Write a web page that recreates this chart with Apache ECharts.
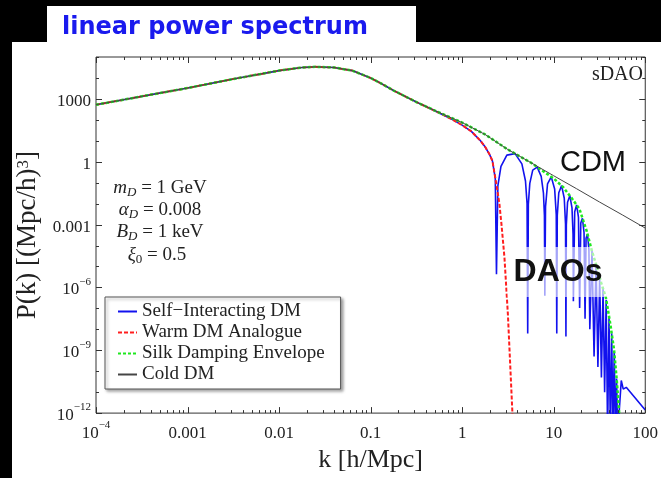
<!DOCTYPE html>
<html>
<head>
<meta charset="utf-8">
<script src="https://cdn.jsdelivr.net/npm/echarts@6/dist/echarts.min.js"></script>
<style>
  html, body { margin: 0; padding: 0; background: #000; }
  #chart { width: 661px; height: 478px; }
</style>
</head>
<body>
<div id="chart"></div>
<script>
// Linear matter power spectrum P(k) [(Mpc/h)^3] against wavenumber k [h/Mpc]

// Cold dark matter
const cdmK = [1e-4, 3.16e-4, 1e-3, 3.16e-3, 0.01, 0.0178, 0.0251, 0.0398, 0.0631, 0.1, 0.126, 0.178, 0.316, 0.562, 1, 1.78, 3.16, 5.62, 10, 17.8, 31.6, 56.2, 100];
const cdmP = [525, 1320, 3300, 8900, 22400, 31600, 33900, 31600, 22400, 10000, 5890, 2510, 708, 224, 74, 20, 3.8, 0.91, 0.214, 0.0513, 0.012, 2.9e-3, 6.8e-4];

// Warm dark matter analogue (sharp cut-off)
const warmK = [1e-4, 3.16e-4, 1e-3, 3.16e-3, 0.01, 0.0178, 0.0251, 0.0398, 0.0631, 0.1, 0.126, 0.178, 0.316, 0.562, 0.794, 1, 1.26, 1.585, 1.778, 1.995, 2.14, 2.37, 2.55, 2.69, 2.9, 3.16, 3.54, 3.63];
const warmP = [525, 1320, 3300, 8900, 22400, 31600, 33900, 31600, 22400, 10000, 5890, 2510, 708, 214, 100, 56, 28, 10, 5.2, 2.2, 1.1, 0.079, 0.01, 1e-3, 2.5e-5, 5e-8, 1e-12, 1e-13];

// Silk damping envelope
const silkK = [1e-4, 3.16e-4, 1e-3, 3.16e-3, 0.01, 0.0178, 0.0251, 0.0398, 0.0631, 0.1, 0.126, 0.178, 0.316, 0.562, 1, 1.78, 3.16, 5.62, 7.08, 10, 12.6, 15.8, 19.1, 22.9, 26.3, 29.5, 33.1, 37.2, 41.7, 45.7, 49, 52.5];
const silkP = [525, 1320, 3300, 8900, 22400, 31600, 33900, 31600, 22400, 10000, 5890, 2510, 708, 224, 74, 20, 3.8, 0.91, 0.45, 0.158, 0.063, 0.0178, 5.6e-3, 5e-4, 5e-5, 1e-5, 1.6e-6, 3.2e-7, 1.6e-8, 1e-9, 3.2e-11, 5e-13];

// Self-interacting (atomic) dark matter with acoustic oscillations
const sidmK = [1e-4, 3.16e-4, 1e-3, 3.16e-3, 0.01, 0.0178, 0.0251, 0.0398, 0.0631, 0.1, 0.126, 0.178, 0.316,
  0.562, 0.794, 1, 1.26, 1.585, 1.778, 1.995, 2.14, 2.3, 2.37,
  2.455, 2.653, 3.078, 3.785, 4.49, 4.917, 5.115, 5.2,
  5.284, 5.48, 5.9, 6.6, 7.3, 7.72, 7.916, 8.0,
  8.14, 8.56, 9.4, 10.24, 10.66, 10.8,
  10.94, 11.36, 12.2, 13.04, 13.46, 13.6,
  13.74, 14.16, 15.0, 15.84, 16.26, 16.4,
  16.96, 17.8, 18.64, 19.2,
  19.76, 20.6, 21.44, 22.0,
  22.56, 23.4, 24.24, 24.8,
  26.2, 27.6, 29.0, 30.4, 31.8, 33.2, 34.6, 36.0, 37.4, 38.8, 40.2, 41.6, 43.0, 44.4, 45.8, 47.2, 48.6, 50,
  54.7, 57.5, 62, 100];
const sidmP = [525, 1320, 3300, 8900, 22400, 31600, 33900, 31600, 22400, 10000, 5890, 2510, 708,
  214, 100, 56, 28, 10, 5.2, 2.2, 1.1, 0.16, 4.3e-6,
  0.071, 0.60, 2.06, 2.43, 0.79, 0.12, 0.0103, 6.3e-9,
  9.5e-3, 0.093, 0.40, 0.55, 0.20, 0.033, 2.8e-3, 4e-7,
  7.2e-3, 0.087, 0.19, 0.05, 3e-3, 6.3e-9,
  2.7e-3, 0.033, 0.072, 0.018, 1.07e-3, 4.5e-9,
  9.5e-4, 0.0115, 0.024, 6.2e-3, 3.7e-4, 2.2e-7,
  4.1e-3, 8.7e-3, 2.2e-3, 1.05e-7,
  1.2e-3, 2e-3, 4.2e-4, 3.2e-8,
  2.2e-4, 3.5e-4, 6.6e-5, 1e-8,
  5.4e-5, 5e-10, 1.3e-5, 1.6e-10, 3.1e-6, 5e-11, 8.5e-7, 1e-11, 2.6e-7, 1e-13, 4.2e-8, 1e-13, 6.5e-9, 1e-13, 9.3e-10, 1e-13, 4.5e-11, 1e-13,
  3.6e-11, 1.4e-11, 1.7e-11, 1.4e-12];

// Tick labels
const xTickExps = [-4, -3, -2, -1, 0, 1, 2];
const xTickLabels = ['{n|10}{s|\u22124}', '{n|0.001}', '{n|0.01}', '{n|0.1}', '{n|1}', '{n|10}', '{n|100}'];
const yTickExps = [-12, -9, -6, -3, 0, 3];
const yTickLabels = ['{n|10}{s|\u221212}', '{n|10}{s|\u22129}', '{n|10}{s|\u22126}', '{n|0.001}', '{n|1}', '{n|1000}'];

const SERIF = '"Liberation Serif", "DejaVu Serif", serif';
const SANS = '"Liberation Sans", Arial, sans-serif';

const pairs = (ks, ps) => ks.map((k, i) => [k, ps[i]]);

// Tick marks on all four sides: decade ticks plus 2..9 sub-ticks along k
const xTicks = [];
for (let e = -4; e <= 2; e++) {
  xTicks.push([Math.pow(10, e), 1, 6]);
  if (e < 2) for (let m = 2; m <= 9; m++) xTicks.push([m * Math.pow(10, e), 1, 3]);
}
const yTicks = [];
for (let e = -12; e <= 5; e++) {
  yTicks.push([1, Math.pow(10, e), yTickExps.includes(e) ? 6 : 3]);
}

const labelRich = {
  n: { fontFamily: SERIF, fontSize: 17, color: '#222', lineHeight: 22, verticalAlign: 'bottom' },
  s: { fontFamily: SERIF, fontSize: 11, color: '#222', lineHeight: 12, verticalAlign: 'top' }
};

function expOf(v) { return Math.round(Math.log10(v)); }

function paramText(y, x, text, subItalic) {
  return {
    type: 'text', silent: true, z: 20, x: x, y: y,
    style: {
      text: text, font: '19px ' + SERIF, fill: '#222', align: 'center', verticalAlign: 'middle', lineHeight: 22,
      rich: {
        v: { font: 'italic 19px ' + SERIF, lineHeight: 22 },
        d: { font: (subItalic ? 'italic ' : '') + '13px ' + SERIF, lineHeight: 14, verticalAlign: 'bottom' }
      }
    }
  };
}

const chart = echarts.init(document.getElementById('chart'), null, { renderer: 'canvas' });

chart.setOption({
  backgroundColor: '#000',
  animation: false,
  grid: { left: 96, top: 57, right: 15, bottom: 62, show: true, borderColor: '#333', borderWidth: 1, backgroundColor: '#fff', z: 1 },
  xAxis: {
    type: 'log', logBase: 10, min: 1e-4, max: 100,
    axisLine: { show: false }, axisTick: { show: false }, splitLine: { show: false },
    axisLabel: {
      margin: 7,
      formatter: v => { const i = xTickExps.indexOf(expOf(v)); return i >= 0 ? xTickLabels[i] : ''; },
      rich: labelRich
    },
    name: 'k [h/Mpc]', nameLocation: 'middle', nameGap: 33,
    nameTextStyle: { fontFamily: SERIF, fontSize: 26, color: '#222' }
  },
  yAxis: {
    type: 'log', logBase: 10, min: 1e-12, max: 1e5, interval: 3,
    axisLine: { show: false }, axisTick: { show: false }, splitLine: { show: false },
    axisLabel: {
      margin: 5,
      formatter: v => { const i = yTickExps.indexOf(expOf(v)); return i >= 0 ? yTickLabels[i] : ''; },
      rich: labelRich
    },
    name: 'P(k) [(Mpc/h){s|3}]', nameLocation: 'middle', nameGap: 52, nameRotate: 90,
    nameTextStyle: {
      fontFamily: SERIF, fontSize: 27, color: '#222',
      rich: { s: { fontFamily: SERIF, fontSize: 17, color: '#222', verticalAlign: 'top', lineHeight: 16 } }
    }
  },
  legend: {
    data: ['Self\u2212Interacting DM', 'Warm DM Analogue', 'Silk Damping Envelope', 'Cold DM'],
    orient: 'vertical', left: 105, top: 297,
    itemWidth: 19, itemHeight: 12, itemGap: 2,
    padding: [5, 16, 5, 12],
    backgroundColor: '#fff', borderColor: '#555', borderWidth: 1,
    shadowColor: 'rgba(0,0,0,0.35)', shadowBlur: 3, shadowOffsetX: 2, shadowOffsetY: 2,
    itemStyle: { color: 'rgba(0,0,0,0)', borderColor: 'rgba(0,0,0,0)', borderWidth: 0, opacity: 0 },
    textStyle: { fontFamily: SERIF, fontSize: 19, color: '#222' },
    selectedMode: false
  },
  series: [
    {
      name: 'Self\u2212Interacting DM', type: 'line', data: pairs(sidmK, sidmP),
      symbol: 'none', z: 2,
      lineStyle: { color: '#1212ee', width: 1.6 }, itemStyle: { color: '#1212ee' }
    },
    {
      name: 'Warm DM Analogue', type: 'line', data: pairs(warmK, warmP),
      symbol: 'none', z: 3,
      lineStyle: { color: '#ff1e1e', width: 2, type: [4, 2] }, itemStyle: { color: '#ff1e1e' }
    },
    {
      name: 'Silk Damping Envelope', type: 'line', data: pairs(silkK, silkP),
      symbol: 'none', z: 4,
      lineStyle: { color: '#1ee81e', width: 2.5, type: [3, 2] }, itemStyle: { color: '#1ee81e' }
    },
    {
      name: 'Cold DM', type: 'line', data: pairs(cdmK, cdmP),
      symbol: 'none', z: 5,
      lineStyle: { color: '#454545', width: 1 }, itemStyle: { color: '#454545' }
    },
    {
      type: 'custom', silent: true, z: 6, clip: false,
      data: xTicks, encode: { x: 0, y: 1 },
      renderItem: (params, api) => {
        const cs = params.coordSys;
        const px = Math.round(api.coord([api.value(0), 1])[0]) + 0.5;
        const len = api.value(2);
        const b = cs.y + cs.height;
        return {
          type: 'group', children: [
            { type: 'line', shape: { x1: px, y1: b, x2: px, y2: b - len }, style: { stroke: '#333', lineWidth: 1 } },
            { type: 'line', shape: { x1: px, y1: cs.y, x2: px, y2: cs.y + len }, style: { stroke: '#333', lineWidth: 1 } }
          ]
        };
      }
    },
    {
      type: 'custom', silent: true, z: 6, clip: false,
      data: yTicks, encode: { x: 0, y: 1 },
      renderItem: (params, api) => {
        const cs = params.coordSys;
        const py = Math.round(api.coord([1, api.value(1)])[1]) + 0.5;
        const len = api.value(2);
        const r = cs.x + cs.width;
        return {
          type: 'group', children: [
            { type: 'line', shape: { x1: cs.x, y1: py, x2: cs.x + len, y2: py }, style: { stroke: '#333', lineWidth: 1 } },
            { type: 'line', shape: { x1: r, y1: py, x2: r - len, y2: py }, style: { stroke: '#333', lineWidth: 1 } }
          ]
        };
      }
    }
  ],
  graphic: [
    { type: 'rect', silent: true, z: -10, shape: { x: 12, y: 42, width: 649, height: 436 }, style: { fill: '#fff' } },
    { type: 'rect', silent: true, z: -10, shape: { x: 47, y: 6, width: 369, height: 40 }, style: { fill: '#fff' } },
    { type: 'text', silent: true, z: 20, x: 62, y: 28,
      style: { text: 'linear power spectrum', font: 'bold 24px "DejaVu Sans", sans-serif', fill: '#1a1aee', verticalAlign: 'middle' } },
    { type: 'text', silent: true, z: 20, x: 643, y: 75,
      style: { text: 'sDAO', font: '20px ' + SERIF, fill: '#222', align: 'right', verticalAlign: 'middle' } },
    { type: 'text', silent: true, z: 20, x: 593, y: 163,
      style: { text: 'CDM', font: '29px ' + SANS, fill: '#111', align: 'center', verticalAlign: 'middle' } },
    { type: 'text', silent: true, z: 20, x: 558, y: 272,
      style: { text: 'DAOs', font: 'bold 32px ' + SANS, fill: '#111', align: 'center', verticalAlign: 'middle',
        backgroundColor: 'rgba(255,255,255,0.62)', padding: [9, 6, 9, 6] } },
    paramText(188, 160, '{v|m}{d|D} = 1 GeV', true),
    paramText(210, 160, '{v|\u03b1}{d|D} = 0.008', true),
    paramText(232, 160, '{v|B}{d|D} = 1 keV', true),
    paramText(255, 157, '{v|\u03be}{d|0} = 0.5', false)
  ]
});
</script>
</body>
</html>
